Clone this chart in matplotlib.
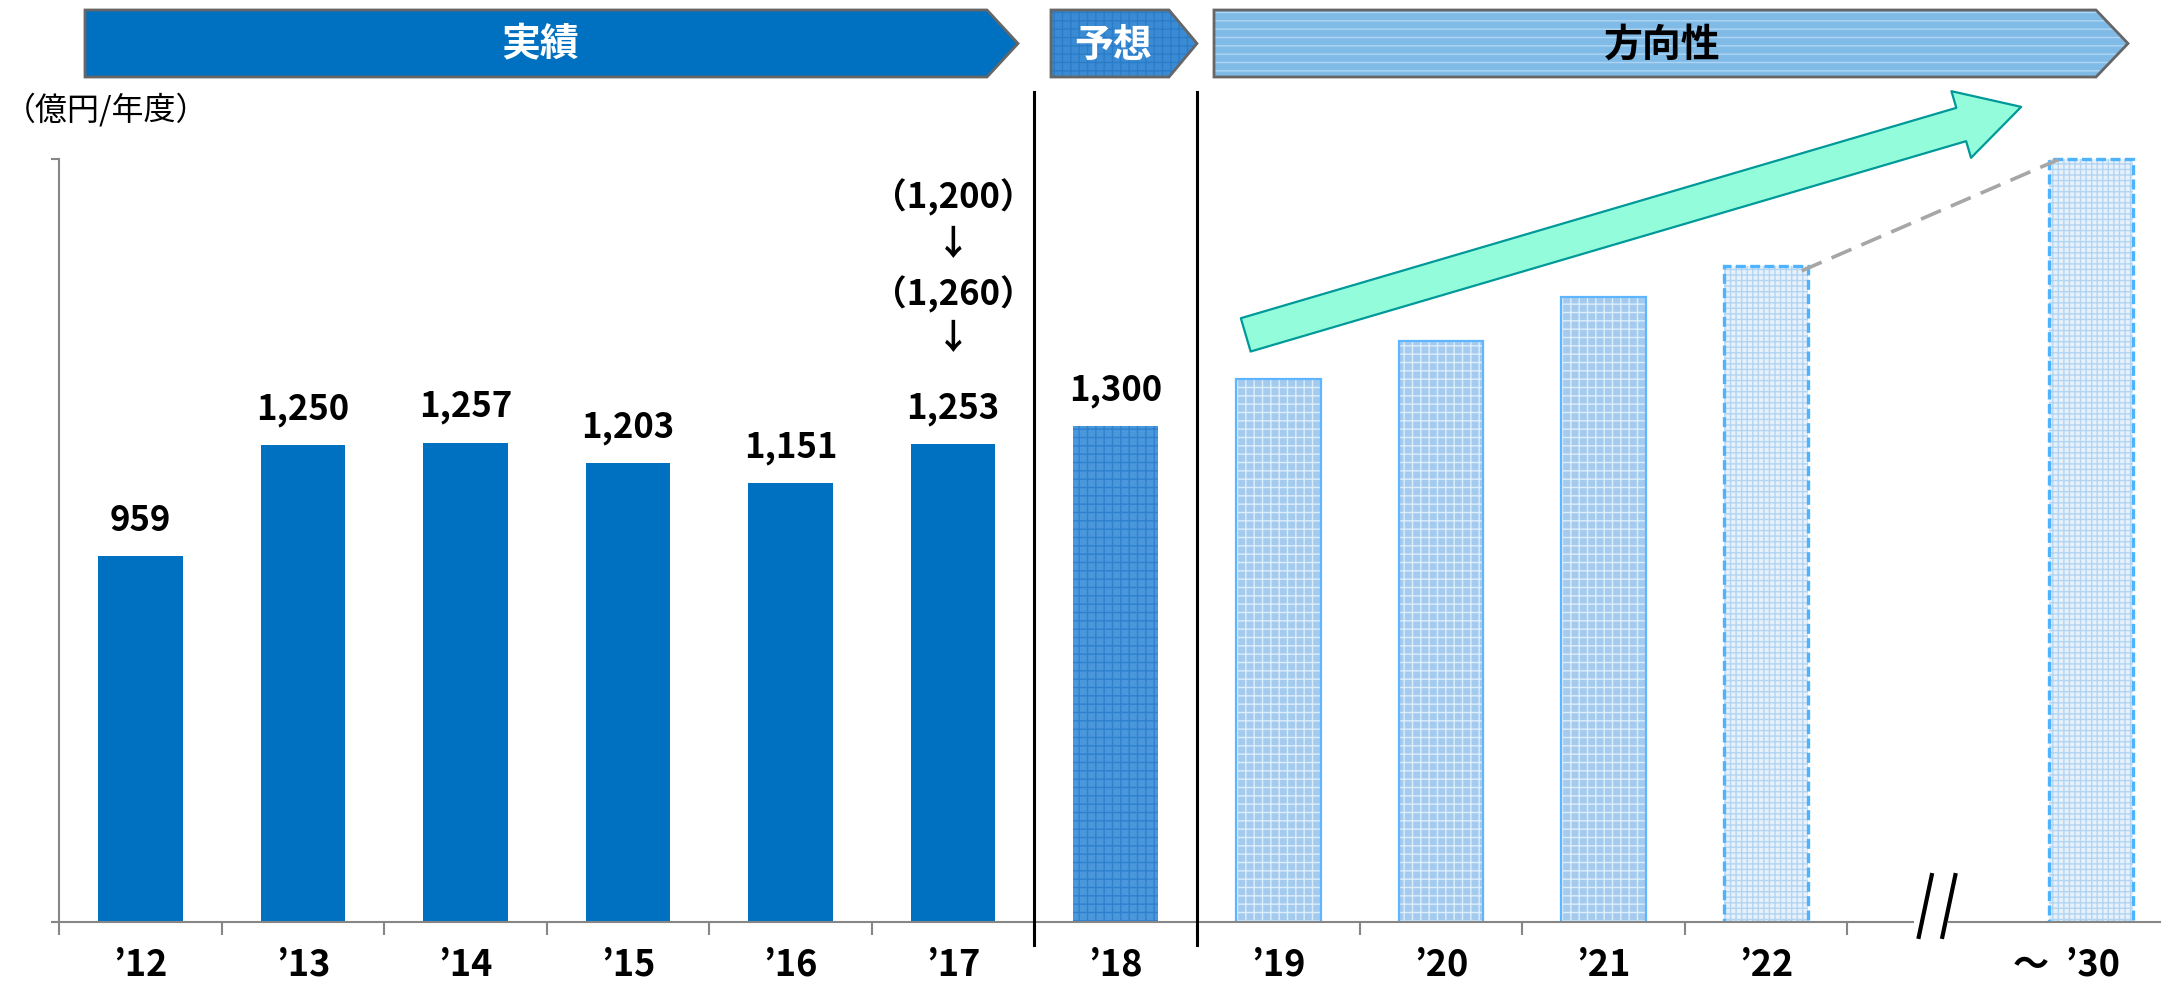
import matplotlib
matplotlib.use('Agg')
import matplotlib.pyplot as plt
from matplotlib.patches import Polygon, Rectangle, FancyArrowPatch, ArrowStyle

plt.rcParams['font.family'] = ['Noto Sans CJK JP', 'DejaVu Sans']
plt.rcParams['hatch.linewidth'] = 1.0

# データ（億円/年度）
labels = ['’12', '’13', '’14', '’15', '’16', '’17', '’18',
          '’19', '’20', '’21', '’22', '', '']
last_label = '～  ’30'
actual = [959, 1250, 1257, 1203, 1151, 1253]       # 実績 '12-'17
forecast = [1300]                                   # 予想 '18
direction = [1425, 1525, 1640]                      # 方向性 '19-'21
outlook = [1720, 2000]                              # '22, '30 (点線)
revisions_17 = ['（1,200）', '（1,260）']            # '17 の修正履歴

W, H = 2161, 985
fig = plt.figure(figsize=(W / 100, H / 100), dpi=100)
ax = fig.add_axes([59 / W, 63 / H, 1 - 59 / W, 830 / H])
ymax = 2177
ax.set_xlim(-0.5, 12.43)
ax.set_ylim(0, ymax)

bw = 0.52
x_act = list(range(0, 6))
x_fc = [6]
x_dir = [7, 8, 9]
x_out = [10, 12]

ax.bar(x_act, actual, bw, color='#0070C0', edgecolor='none', zorder=2)

# 予想
ax.bar(x_fc, forecast, bw, color='#4a98db', edgecolor='none', zorder=2)
ax.bar(x_fc, forecast, bw, color='none', edgecolor='#2f80cf', hatch='++', lw=0, zorder=2)

# 方向性
ax.bar(x_dir, direction, bw, color='#a4cbee', edgecolor='none', zorder=2)
ax.bar(x_dir, direction, bw, color='none', edgecolor='#dcedfb', hatch='++', lw=0, zorder=2)
ax.bar(x_dir, direction, bw, color='none', edgecolor='#5db6ff', lw=1.6, zorder=2)

ax.bar(x_out, outlook, bw, color='#e6f1fb', edgecolor='none', zorder=2)
ax.bar(x_out, outlook, bw, color='none', edgecolor='#b3d5f2', hatch='+++', lw=0, zorder=2)
ax.bar(x_out, outlook, bw, color='none', edgecolor='#4db3ff', lw=2.4,
       linestyle=(0, (3, 1.3)), zorder=2)

# 数値ラベル
for x, v in zip(x_act + x_fc, actual + forecast):
    ax.annotate(f'{v:,}', (x, v), xytext=(0, 26), textcoords='offset points',
                ha='center', va='center', fontsize=25, fontweight='bold')

# '17 の修正履歴
top17 = actual[-1]
stack = ['↓', revisions_17[1], '↓', revisions_17[0]]
offsets = [76, 108, 144, 178]
for s, off in zip(stack, offsets):
    ax.annotate(s, (5, top17), xytext=(0, off), textcoords='offset points',
                ha='center', va='center', fontsize=25, fontweight='bold')

# '22 → '30 の点線
ax.plot([x_out[0] + 0.22, x_out[1] - 0.2], [outlook[0] - 12, outlook[1]],
        color='#a6a6a6', lw=2.6, dashes=(6, 3), zorder=3)

# 区切り線
for xv in [5.5, 6.5]:
    ax.plot([xv, xv], [-60, ymax], color='black', lw=2.2, clip_on=False, zorder=3)

# 大きな矢印
arr = FancyArrowPatch((6.8, 1540), (11.57, 2138),
                      arrowstyle=ArrowStyle.Simple(head_length=45, head_width=50, tail_width=25),
                      mutation_scale=1, shrinkA=0, shrinkB=0,
                      facecolor='#93fcda', edgecolor='#009999', lw=1.6,
                      clip_on=False, zorder=4)
ax.add_patch(arr)

# 軸
gray = '#868686'
for s in ['top', 'right']:
    ax.spines[s].set_visible(False)
ax.spines['left'].set_bounds(0, 2000)
ax.spines['left'].set_color(gray)
ax.spines['left'].set_linewidth(1.5)
ax.spines['bottom'].set_color(gray)
ax.spines['bottom'].set_linewidth(1.5)
ax.set_yticks([0, 2000])
ax.set_yticklabels([])
ax.tick_params(axis='y', length=6, width=1.5, color=gray)
ax.set_xticks(range(13))
ax.set_xticklabels(labels, fontsize=26, fontweight='bold')
ax.set_xticks([i - 0.5 for i in range(12)], minor=True)
ax.tick_params(axis='x', which='major', length=0, pad=18)
ax.tick_params(axis='x', which='minor', length=9, width=1.5, color=gray)
ax.annotate(last_label, (12, 0), xytext=(21, -18), textcoords='offset points',
            ha='right', va='top', fontsize=26, fontweight='bold', annotation_clip=False)

# 軸の省略記号
ax.add_patch(Rectangle((10.91, -25), 0.21, 50, facecolor='white', edgecolor='none',
                       clip_on=False, zorder=5))
for dx in [0, 0.145]:
    ax.plot([10.94 + dx, 11.02 + dx], [-39, 123], color='black', lw=3,
            clip_on=False, zorder=6)

fig.text(4 / W, 1 - 110 / H, '（億円/年度）', fontsize=23, va='center', ha='left')


# バナー
def chevron(x0, xb, xt, face, hatch=None, hcolor=None):
    y0, y1 = 10, 77
    pts = [(x0, y0), (xb, y0), (xt, (y0 + y1) / 2), (xb, y1), (x0, y1)]
    pts = [(px / W, 1 - py / H) for px, py in pts]
    fig.patches.append(Polygon(pts, closed=True, transform=fig.transFigure,
                               facecolor=face, edgecolor='none'))
    if hatch:
        fig.patches.append(Polygon(pts, closed=True, transform=fig.transFigure,
                                   facecolor='none', edgecolor=hcolor, hatch=hatch, lw=0))
    fig.patches.append(Polygon(pts, closed=True, transform=fig.transFigure,
                               facecolor='none', edgecolor='#666666', lw=2))


chevron(85, 987, 1018, '#0070C0')
chevron(1051, 1169, 1197, '#3a8bd4', '++', '#2a7cc8')
chevron(1214, 2096, 2128, '#80bae6', '--', '#aed5f3')
fig.text(540 / W, 1 - 45 / H, '実績', fontsize=28, fontweight='bold', color='white',
         ha='center', va='center')
fig.text(1113 / W, 1 - 45 / H, '予想', fontsize=28, fontweight='bold', color='white',
         ha='center', va='center')
fig.text(1662 / W, 1 - 45 / H, '方向性', fontsize=28, fontweight='bold', color='black',
         ha='center', va='center')

fig.savefig('out.png', dpi=100)
